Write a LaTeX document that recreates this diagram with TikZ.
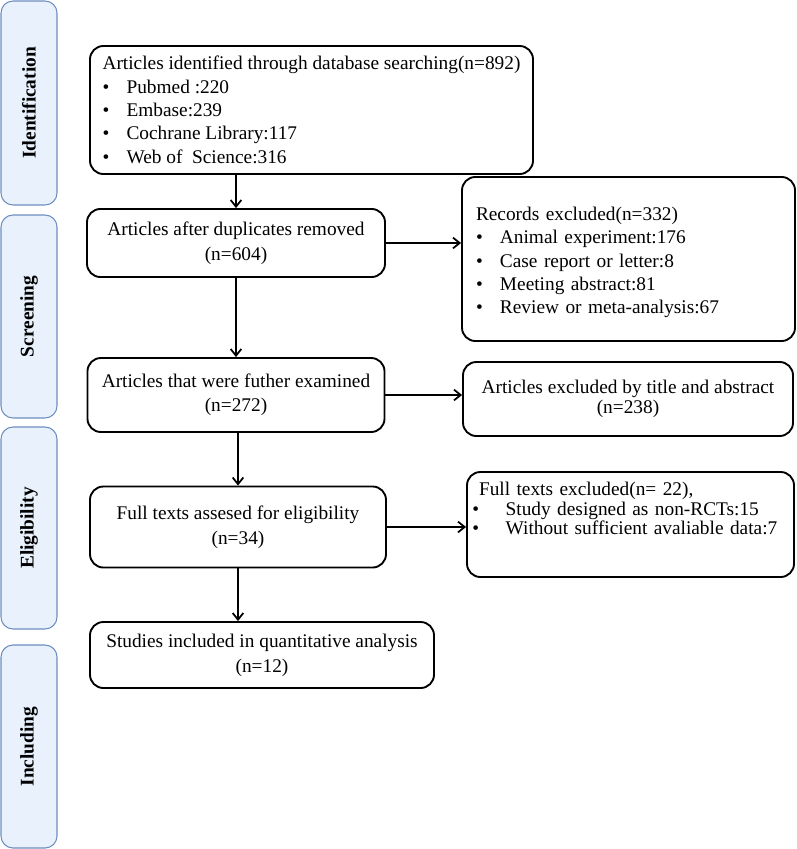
\documentclass[tikz,border=0pt]{standalone}
\usepackage{fontspec}
\setmainfont{Liberation Serif}
\usetikzlibrary{arrows.meta}

\definecolor{phaseline}{RGB}{108,142,191}
\definecolor{phasefill}{RGB}{232,241,252}
\newlength\pxu
\setlength\pxu{0.75pt}
\newcommand\itm{\makebox[18pt][l]{\textbullet}}
\newcommand\tightlines{\setlength\lineskiplimit{-6pt}}

\begin{document}
\begin{tikzpicture}[x=0.75pt,y=-0.75pt]
      \useasboundingbox (0,0) rectangle (796,849);

      % phases on the left
      \begin{scope}[every node/.style={draw=phaseline, fill=phasefill, rounded corners=9pt,
          line width=0.8pt, rotate=90, minimum height=56\pxu,
          font=\fontsize{14.5}{17}\selectfont\bfseries}]
        \node[minimum width=204\pxu] (idf) at (29,103)   {Identification};
        \node[minimum width=203\pxu] (scr) at (29,316.5) {Screening};
        \node[minimum width=202\pxu] (elg) at (29,528)   {Eligibility};
        \node[minimum width=203\pxu] (inc) at (29,746.5) {Including};
      \end{scope}

      \begin{scope}[every node/.style={draw, rounded corners=10pt, line width=1.4pt,
          font=\fontsize{14.5}{17.5}\selectfont}]
        \node[align=left, minimum width=443\pxu, minimum height=128\pxu] (srch) at (311.5,110)
          {Articles identified through database searching(n=892)\\
           \itm Pubmed :220\\ \itm Embase:239\\ \itm Cochrane Library:117\\ \itm Web of\ \ Science:316};
        \node[align=center, minimum width=298\pxu, minimum height=68\pxu,
          font=\fontsize{14.5}{18.75}\selectfont] (dup) at (236,243)
          {Articles after duplicates removed\\(n=604)};
        \node[align=left, inner xsep=14\pxu, text width=305\pxu, minimum height=164\pxu,
          text depth=68pt] (rec) at (628.5,259)
          {Records excluded(n=332)\\ \itm Animal experiment:176\\ \itm Case report or letter:8\\
           \itm Meeting abstract:81\\ \itm Review or meta-analysis:67};
        \node[align=center, minimum width=297\pxu, minimum height=74\pxu,
          font=\fontsize{14.5}{18}\selectfont] (exam) at (236,395)
          {Articles that were futher examined\\(n=272)};
        \node[align=center, minimum width=330\pxu, minimum height=74\pxu,
          font=\fontsize{14.5}{15}\selectfont] (ttl) at (628,399)
          {Articles excluded by title and abstract\\(n=238)};
        \node[align=center, minimum width=296\pxu, minimum height=81\pxu,
          font=\fontsize{14.5}{18.75}\selectfont] (full) at (238,527)
          {Full texts assesed for eligibility\\(n=34)};
        \node[align=left, inner xsep=12\pxu, inner ysep=2pt, text width=303\pxu, minimum height=105\pxu,
          text depth=53.5pt, font=\fontsize{14.5}{14.6}\selectfont] (ftx) at (630.5,524.5)
          {\tightlines Full texts excluded(n= 22),\\
           \hspace*{-5pt}\makebox[25pt][l]{\textbullet}Study designed as non-RCTs:15\\
           \hspace*{-5pt}\makebox[25pt][l]{\textbullet}Without sufficient avaliable data:7};
        \node[align=center, minimum width=344\pxu, minimum height=66\pxu,
          font=\fontsize{14.5}{18.75}\selectfont] (incl) at (262,655)
          {Studies included in quantitative analysis\\(n=12)};
      \end{scope}

      \begin{scope}[every edge/.style={draw, line width=1.3pt, -{Straight Barb[length=5pt,width=8pt]}}]
        \path (dup.north |- srch.south)  edge (dup.north);
        \path (exam.north |- dup.south)  edge (exam.north);
        \path (full.north |- exam.south) edge (full.north);
        \path (full.south)  edge (full.south |- incl.north);
        \path (dup.east)    edge (dup.east -| rec.west);
        \path (exam.east)   edge (exam.east -| ttl.west);
        \path (full.east)   edge (full.east -| ftx.west);
      \end{scope}

    \end{tikzpicture}
\end{document}
